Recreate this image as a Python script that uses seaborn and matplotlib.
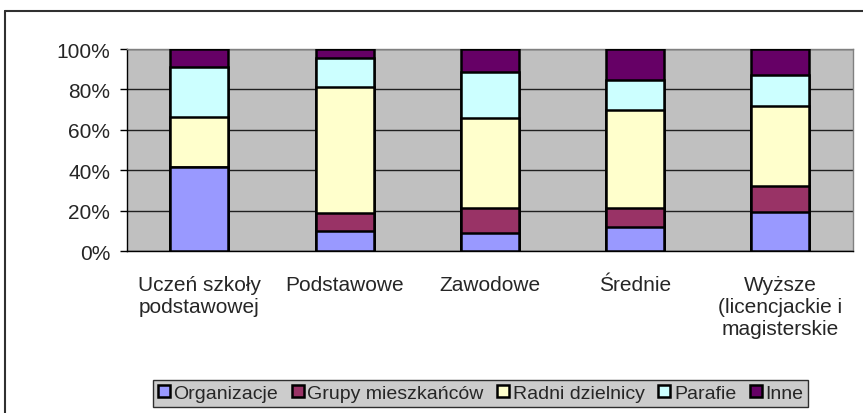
import numpy as np
import pandas as pd
import matplotlib
matplotlib.use("Agg")
import matplotlib.pyplot as plt
from matplotlib.patches import Patch
from matplotlib.lines import Line2D
import seaborn as sns

# ---- data (percent shares) ----
categories = ["Uczeń szkoły\npodstawowej", "Podstawowe", "Zawodowe", "Średnie",
              "Wyższe\n(licencjackie i\nmagisterskie"]
series_names = ["Organizacje", "Grupy mieszkańców", "Radni dzielnicy", "Parafie", "Inne"]
organizacje = [41.4, 10.0, 8.8, 12.0, 19.5]
grupy = [0.0, 8.6, 12.3, 9.1, 12.5]
radni = [25.1, 62.4, 44.6, 48.9, 39.6]
parafie = [24.7, 14.5, 22.8, 14.7, 15.7]
inne = [8.8, 4.5, 11.5, 15.3, 12.7]
colors = ["#9999FF", "#993366", "#FFFFCC", "#CCFFFF", "#660066"]

sns.set_style("white", {"axes.facecolor": "#C0C0C0"})
plt.rcParams["font.family"] = ["Liberation Sans", "DejaVu Sans"]

df = pd.DataFrame({"cat": categories, "Organizacje": organizacje,
                   "Grupy mieszkańców": grupy, "Radni dzielnicy": radni,
                   "Parafie": parafie, "Inne": inne})
# normalise each bar to 100% and stack
vals = df[series_names].to_numpy()
vals = vals / vals.sum(axis=1, keepdims=True) * 100
cum = np.cumsum(vals, axis=1)

fig = plt.figure(figsize=(8.63, 4.14), dpi=100)
ax = fig.add_axes([0.1468, 0.3913, 0.9884 - 0.1468, 0.8792 - 0.3913])

# draw from the top layer down so each lower layer sits on top
for i in range(len(series_names) - 1, -1, -1):
    sns.barplot(x=df["cat"], y=cum[:, i], color=colors[i], width=0.4,
                edgecolor="black", linewidth=1.8, saturation=1, ax=ax, zorder=3)

ax.set_ylim(0, 100)
ax.set_xlim(-0.5, len(categories) - 0.5)
ax.set_yticks(np.arange(0, 101, 20))
ax.set_yticklabels([f"{v}%" for v in range(0, 101, 20)])
ax.yaxis.grid(True, color="#202020", linewidth=1.0, zorder=0)
ax.set_axisbelow(True)
ax.set_xlabel("")
ax.set_ylabel("")

ax.set_xticks(range(len(categories)))
ax.set_xticklabels(categories, fontsize=15, linespacing=1.2)
ax.set_xticks(np.arange(-0.5, len(categories), 1.0), minor=True)
ax.tick_params(axis="x", which="major", length=0, pad=17)
ax.tick_params(axis="x", which="minor", length=5, width=1, color="black", direction="out")
ax.tick_params(axis="y", length=5, width=1, color="black", direction="out",
               pad=7, labelsize=15, left=True)

for s in ["top", "right"]:
    ax.spines[s].set_color("#808080")
    ax.spines[s].set_linewidth(1)
for s in ["left", "bottom"]:
    ax.spines[s].set_color("black")
    ax.spines[s].set_linewidth(1)

handles = [Patch(facecolor=c, edgecolor="black", linewidth=1.8) for c in colors]
leg = fig.legend(handles, series_names, loc="center", bbox_to_anchor=(0.557, 0.047),
                 ncol=5, fontsize=14, frameon=True, fancybox=False,
                 handlelength=0.6, handleheight=0.6, handletextpad=0.2,
                 columnspacing=0.7, borderpad=0.25, borderaxespad=0)
leg.get_frame().set_edgecolor("black")
leg.get_frame().set_linewidth(1)

# outer chart frame (top and left edges visible)
fig.add_artist(Line2D([0.006, 1.0], [0.972, 0.972], color="#303030", linewidth=1.5,
                      transform=fig.transFigure))
fig.add_artist(Line2D([0.006, 0.006], [0.0, 0.972], color="#303030", linewidth=1.5,
                      transform=fig.transFigure))

fig.savefig("out.png", dpi=100)
